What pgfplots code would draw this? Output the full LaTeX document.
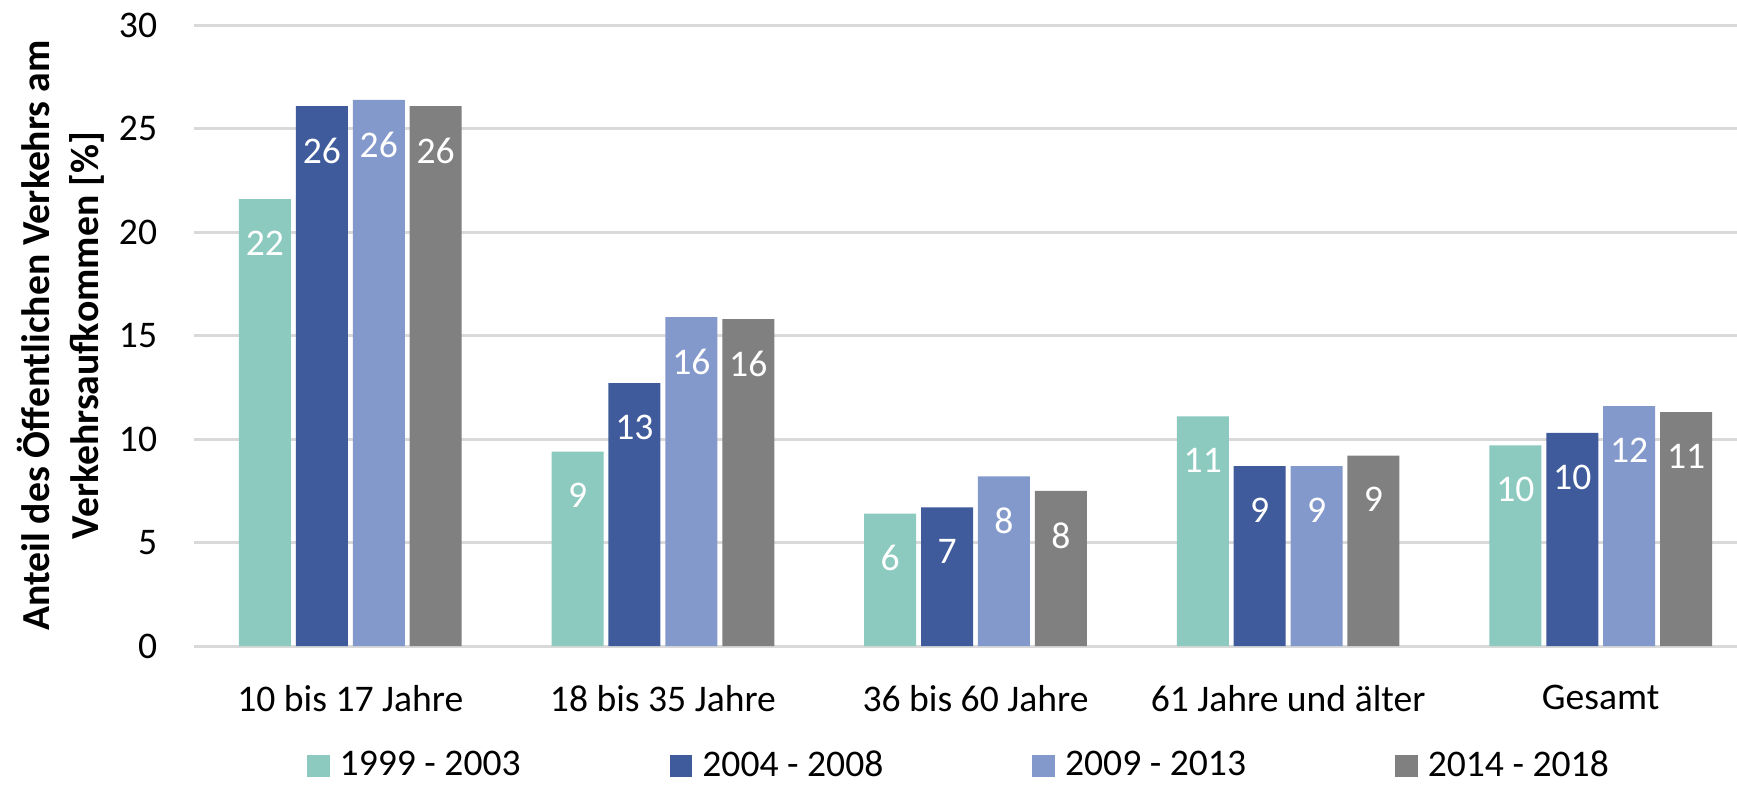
\documentclass[border=0pt]{standalone}
\usepackage{fontspec}
\setmainfont{Carlito}
\usepackage{pgfplots}
\usepackage{pgfplotstable}
\pgfplotsset{compat=1.18}

\definecolor{cteal}{RGB}{140,202,192}
\definecolor{cdark}{RGB}{63,91,155}
\definecolor{clight}{RGB}{131,152,203}
\definecolor{cgray}{RGB}{128,128,128}
\definecolor{cgrid}{RGB}{217,217,217}

% x = group index, y = share, lab = printed label
\pgfplotstableread{
x y lab
0 21.6 22
1 9.4 9
2 6.4 6
3 11.1 11
4 9.7 10
}\sA
\pgfplotstableread{
x y lab
0 26.1 26
1 12.7 13
2 6.7 7
3 8.7 9
4 10.3 10
}\sB
\pgfplotstableread{
x y lab
0 26.4 26
1 15.9 16
2 8.2 8
3 8.7 9
4 11.6 12
}\sC
\pgfplotstableread{
x y lab
0 26.1 26
1 15.8 16
2 7.5 8
3 9.2 9
4 11.3 11
}\sD

\begin{document}
\begin{tikzpicture}
\begin{axis}[
  scale only axis,
  width=15.43cm, height=6.207cm,
  xmin=-0.5, xmax=4.436,
  ymin=0, ymax=30,
  ytick={0,5,...,30},
  xtick=data,
  xticklabels={10 bis 17 Jahre,18 bis 35 Jahre,36 bis 60 Jahre,61 Jahre und älter,Gesamt},
  ybar=0.49mm, bar width=5.2mm,
  axis line style={draw=none},
  major tick length=0pt,
  ymajorgrids, grid style={cgrid, line width=0.85pt},
  /pgf/number format/assume math mode=true,
  tick label style={font=\fontsize{10.7}{12.8}\selectfont, text=black},
  yticklabel style={xshift=-2.45mm},
  xticklabel style={yshift=-2.7mm},
  every axis y label/.style={at={(axis description cs:-0.0862,0.5)}, rotate=90, anchor=center},
  ylabel style={align=center, font=\bfseries\fontsize{11.3}{13.9}\selectfont},
  ylabel={Anteil des Öffentlichen Verkehrs am\\Verkehrsaufkommen [\%]},
  nodes near coords,
  point meta=explicit symbolic,
  every node near coord/.append style={anchor=north, yshift=-1.95mm, text=white,
    font=\fontsize{10.7}{12.8}\selectfont},
  legend columns=4,
  legend image code/.code={\fill[#1] (0mm,-1.13mm) rectangle (2.27mm,1.13mm);},
  legend style={draw=none, fill=none, inner sep=0pt, outer sep=0pt,
    at={(rel axis cs:0,0)}, anchor=west, xshift=1.13cm, yshift=-1.2cm,
    font=\fontsize{10.7}{12.8}\selectfont,
    nodes={inner sep=0pt},
    /tikz/every odd column/.append style={column sep=1mm},
    /tikz/every even column/.append style={column sep=14.9mm}},
]
\addplot[fill=cteal, draw=none] table[x=x, y=y, meta=lab] {\sA};
\addplot[fill=cdark, draw=none] table[x=x, y=y, meta=lab] {\sB};
\addplot[fill=clight, draw=none] table[x=x, y=y, meta=lab] {\sC};
\addplot[fill=cgray, draw=none] table[x=x, y=y, meta=lab] {\sD};
\legend{1999 - 2003, 2004 - 2008, 2009 - 2013, 2014 - 2018}
\end{axis}
\pgfresetboundingbox
\path[use as bounding box] (-1.94cm,-1.38cm) rectangle (15.43cm,6.46cm);
\end{tikzpicture}
\end{document}
